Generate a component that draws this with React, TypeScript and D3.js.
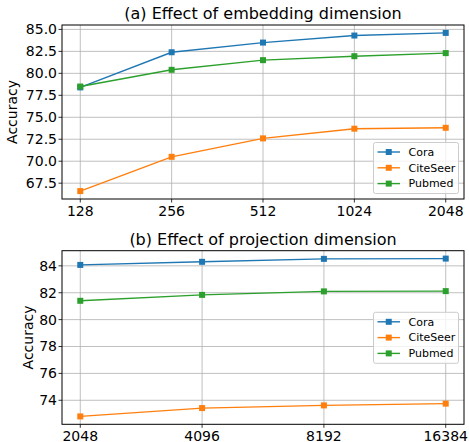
import * as d3 from 'd3';

// (a) embedding dimension
const embedDims = ['128', '256', '512', '1024', '2048'];
const embedCora = [78.4, 82.4, 83.5, 84.3, 84.6];
const embedCiteSeer = [66.6, 70.5, 72.6, 73.7, 73.8];
const embedPubmed = [78.5, 80.4, 81.5, 81.95, 82.3];
const embedTicks = [67.5, 70.0, 72.5, 75.0, 77.5, 80.0, 82.5, 85.0];

// (b) projection dimension
const projDims = ['2048', '4096', '8192', '16384'];
const projCora = [84.07, 84.3, 84.52, 84.54];
const projCiteSeer = [72.8, 73.42, 73.62, 73.75];
const projPubmed = [81.4, 81.84, 82.1, 82.12];
const projTicks = [74, 76, 78, 80, 82, 84];

const seriesNames = ['Cora', 'CiteSeer', 'Pubmed'];
const colors = ['#1f77b4', '#ff7f0e', '#2ca02c'];

const FONT = 'DejaVu Sans, sans-serif';

type PanelProps = {
  title: string;
  cats: string[];
  series: number[][];
  ticks: number[];
  fmt: (v: number) => string;
  top: number;
  bottom: number;
  labelX: number;
  legendY: number;
};

const Panel = ({ title, cats, series, ticks, fmt, top, bottom, labelX, legendY }: PanelProps) => {
  const left = 62;
  const right = 464;
  const n = cats.length - 1;
  const x = d3.scaleLinear().domain([-0.05 * n, n * 1.05]).range([left, right]);
  const all = series.flat();
  const lo = d3.min(all)!;
  const hi = d3.max(all)!;
  const pad = (hi - lo) * 0.05;
  const y = d3.scaleLinear().domain([lo - pad, hi + pad]).range([bottom, top]);
  const line = d3.line<number>().x((_, i) => x(i)).y(d => y(d));

  return (
    <g fontFamily={FONT}>
      <text x={(left + right) / 2} y={top - 6} textAnchor="middle" fontSize={16} fill="#000">{title}</text>
      {/* grid */}
      {cats.map((_, i) => (
        <line key={'gx' + i} x1={x(i)} x2={x(i)} y1={top} y2={bottom} stroke="#b0b0b0" strokeWidth={0.8} />
      ))}
      {ticks.map(t => (
        <line key={'gy' + t} x1={left} x2={right} y1={y(t)} y2={y(t)} stroke="#b0b0b0" strokeWidth={0.8} />
      ))}
      {/* series */}
      {series.map((s, k) => (
        <g key={'s' + k}>
          <path d={line(s) ?? ''} fill="none" stroke={colors[k]} strokeWidth={1.4} />
          {s.map((v, i) => (
            <rect key={i} x={x(i) - 3} y={y(v) - 3} width={6} height={6} fill={colors[k]} />
          ))}
        </g>
      ))}
      {/* frame */}
      <rect x={left} y={top} width={right - left} height={bottom - top} fill="none" stroke="#000" strokeWidth={1} />
      {/* x ticks */}
      {cats.map((c, i) => (
        <g key={'xt' + i}>
          <line x1={x(i)} x2={x(i)} y1={bottom} y2={bottom + 3.5} stroke="#000" strokeWidth={0.8} />
          <text x={x(i)} y={bottom + 17} textAnchor="middle" fontSize={14} fill="#000">{c}</text>
        </g>
      ))}
      {/* y ticks */}
      {ticks.map(t => (
        <g key={'yt' + t}>
          <line x1={left - 3.5} x2={left} y1={y(t)} y2={y(t)} stroke="#000" strokeWidth={0.8} />
          <text x={left - 5} y={y(t)} dy="0.35em" textAnchor="end" fontSize={14} fill="#000">{fmt(t)}</text>
        </g>
      ))}
      <text transform={`translate(${labelX},${(top + bottom) / 2}) rotate(-90)`} textAnchor="middle" dy="0.35em" fontSize={14} fill="#000">Accuracy</text>
      {/* legend */}
      <g transform={`translate(373.5,${legendY})`}>
        <rect x={0} y={0} width={85} height={51} rx={2} fill="#fff" fillOpacity={0.8} stroke="#cccccc" strokeWidth={1} />
        {seriesNames.map((name, k) => (
          <g key={name} transform={`translate(0,${9.5 + k * 15.8})`}>
            <line x1={4} x2={26.5} y1={0} y2={0} stroke={colors[k]} strokeWidth={1.4} />
            <rect x={12.25} y={-3} width={6} height={6} fill={colors[k]} />
            <text x={35} y={0} dy="0.35em" fontSize={11} fill="#000">{name}</text>
          </g>
        ))}
      </g>
    </g>
  );
};

export default function App() {
  return (
    <svg width={469} height={442} style={{ position: 'absolute', left: 0, top: 0, background: '#fff' }}>
      <Panel
        title="(a) Effect of embedding dimension"
        cats={embedDims}
        series={[embedCora, embedCiteSeer, embedPubmed]}
        ticks={embedTicks}
        fmt={d3.format('.1f')}
        top={25}
        bottom={199}
        labelX={12.5}
        legendY={142.5}
      />
      <Panel
        title="(b) Effect of projection dimension"
        cats={projDims}
        series={[projCora, projCiteSeer, projPubmed]}
        ticks={projTicks}
        fmt={d3.format('d')}
        top={250.7}
        bottom={424.3}
        labelX={28}
        legendY={312.3}
      />
    </svg>
  );
}
